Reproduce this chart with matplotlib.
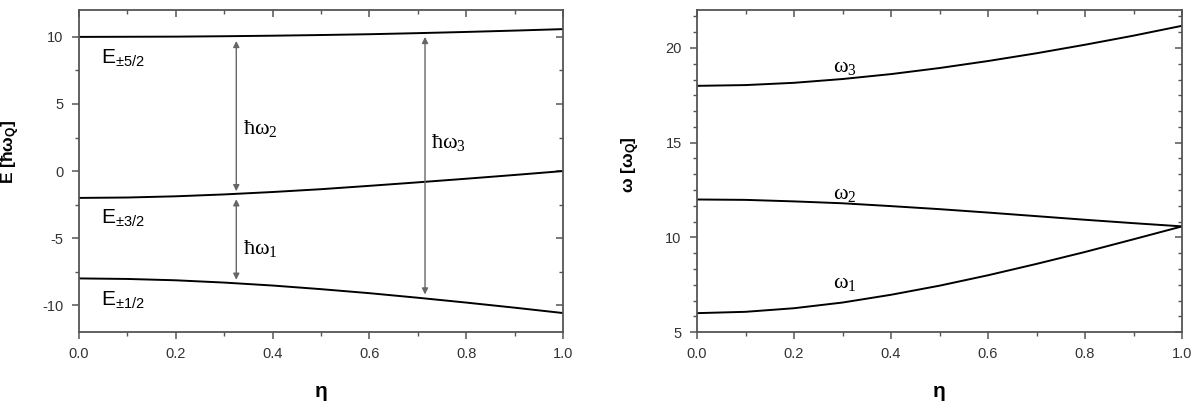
import matplotlib.pyplot as plt
from matplotlib.ticker import MultipleLocator

# eta grid and energy levels [hbar omega_Q]
eta = [0.0, 0.1, 0.2, 0.3, 0.4, 0.5, 0.6, 0.7, 0.8, 0.9, 1.0]
e52 = [10.0, 10.01, 10.02, 10.05, 10.09, 10.14, 10.20, 10.28, 10.37, 10.47, 10.58]
e32 = [-2.0, -1.97, -1.88, -1.74, -1.56, -1.35, -1.10, -0.84, -0.57, -0.29, 0.0]
e12 = [-8.0, -8.04, -8.14, -8.31, -8.53, -8.80, -9.10, -9.44, -9.80, -10.18, -10.58]

# transition frequencies [omega_Q]
w1 = [6.0, 6.07, 6.26, 6.56, 6.97, 7.45, 8.0, 8.6, 9.23, 9.9, 10.58]
w2 = [12.0, 11.98, 11.9, 11.8, 11.65, 11.49, 11.31, 11.12, 10.93, 10.75, 10.58]
w3 = [18.0, 18.04, 18.16, 18.36, 18.62, 18.94, 19.31, 19.72, 20.17, 20.65, 21.17]

plt.rcParams['font.family'] = ['Liberation Sans', 'DejaVu Sans']
plt.rcParams['axes.unicode_minus'] = False
plt.rcParams['mathtext.fontset'] = 'custom'
plt.rcParams['mathtext.rm'] = 'Liberation Serif'
plt.rcParams['mathtext.it'] = 'Liberation Serif:italic'

spine_col = '#555555'
tick_col = '#333333'

fig = plt.figure(figsize=(11.97, 4.11), dpi=100)
ax1 = fig.add_axes([0.066, 0.192, 0.4043, 0.7835])
ax2 = fig.add_axes([0.5823, 0.192, 0.4052, 0.7835])


def style(ax, ymajor, yminor):
    ax.set_xlim(0, 1)
    ax.xaxis.set_major_locator(MultipleLocator(0.2))
    ax.xaxis.set_minor_locator(MultipleLocator(0.1))
    ax.yaxis.set_major_locator(MultipleLocator(ymajor))
    ax.yaxis.set_minor_locator(MultipleLocator(yminor))
    for s in ax.spines.values():
        s.set_color(spine_col)
        s.set_linewidth(1.3)
    ax.tick_params(which='major', direction='out', length=5, width=1.1,
                   color=spine_col, labelcolor=tick_col, labelsize=10.5, pad=6)
    ax.tick_params(which='minor', direction='out', length=3, width=1.0,
                   color=spine_col)
    ax.xaxis.set_major_formatter(plt.FormatStrFormatter('%.1f'))
    # mirrored ticks on top and right point inward
    top = ax.secondary_xaxis('top')
    top.xaxis.set_major_locator(MultipleLocator(0.2))
    top.xaxis.set_minor_locator(MultipleLocator(0.1))
    right = ax.secondary_yaxis('right')
    right.yaxis.set_major_locator(MultipleLocator(ymajor))
    right.yaxis.set_minor_locator(MultipleLocator(yminor))
    for sec in (top, right):
        sec.tick_params(which='major', direction='in', length=5, width=1.1,
                        color=spine_col, labelleft=False, labelright=False,
                        labeltop=False, labelbottom=False)
        sec.tick_params(which='minor', direction='in', length=3, width=1.0,
                        color=spine_col)
        for s in sec.spines.values():
            s.set_visible(False)


# left panel: energy levels
for e in (e52, e32, e12):
    ax1.plot(eta, e, color='black', lw=1.4)
ax1.set_ylim(-12, 12)
style(ax1, 5, 2.5)
ax1.set_xlabel('η', fontsize=15, fontweight='bold')
ax1.xaxis.set_label_coords(0.5, -0.155)
ax1.set_ylabel(r'E [ħω$_\mathregular{Q}$]', fontsize=12.5, fontweight='bold')
ax1.yaxis.set_label_coords(-0.117, 0.56)

lab_kw = dict(fontsize=15, va='center', ha='left')
ax1.text(0.045, 8.4, r'$\mathregular{E_{\pm5/2}}$', **lab_kw)
ax1.text(0.045, -3.5, r'$\mathregular{E_{\pm3/2}}$', **lab_kw)
ax1.text(0.045, -9.6, r'$\mathregular{E_{\pm1/2}}$', **lab_kw)

arrow_kw = dict(arrowstyle='<|-|>', color='#666666', lw=1.0, mutation_scale=9,
                shrinkA=0, shrinkB=0)
ax1.annotate('', xy=(0.325, 9.7), xytext=(0.325, -1.5), arrowprops=arrow_kw)
ax1.annotate('', xy=(0.325, -2.1), xytext=(0.325, -8.1), arrowprops=arrow_kw)
ax1.annotate('', xy=(0.715, 10.0), xytext=(0.715, -9.2), arrowprops=arrow_kw)

hw_kw = dict(fontsize=16, va='center', ha='left')
ax1.text(0.338, 3.2, r'$\mathrm{ħω}_\mathrm{2}$', **hw_kw)
ax1.text(0.338, -5.8, r'$\mathrm{ħω}_\mathrm{1}$', **hw_kw)
ax1.text(0.727, 2.1, r'$\mathrm{ħω}_\mathrm{3}$', **hw_kw)

# right panel: transition frequencies
for w in (w1, w2, w3):
    ax2.plot(eta, w, color='black', lw=1.4)
ax2.set_ylim(5, 22)
style(ax2, 5, 5 / 6)
ax2.set_xlabel('η', fontsize=15, fontweight='bold')
ax2.xaxis.set_label_coords(0.5, -0.155)
ax2.set_ylabel(r'ω [ω$_\mathregular{Q}$]', fontsize=12.5, fontweight='bold')
ax2.yaxis.set_label_coords(-0.113, 0.52)

w_kw = dict(fontsize=16, va='center', ha='left')
ax2.text(0.28, 19.0, r'$\mathrm{ω}_\mathrm{3}$', **w_kw)
ax2.text(0.28, 12.3, r'$\mathrm{ω}_\mathrm{2}$', **w_kw)
ax2.text(0.28, 7.6, r'$\mathrm{ω}_\mathrm{1}$', **w_kw)

fig.savefig('out.png', dpi=100)
